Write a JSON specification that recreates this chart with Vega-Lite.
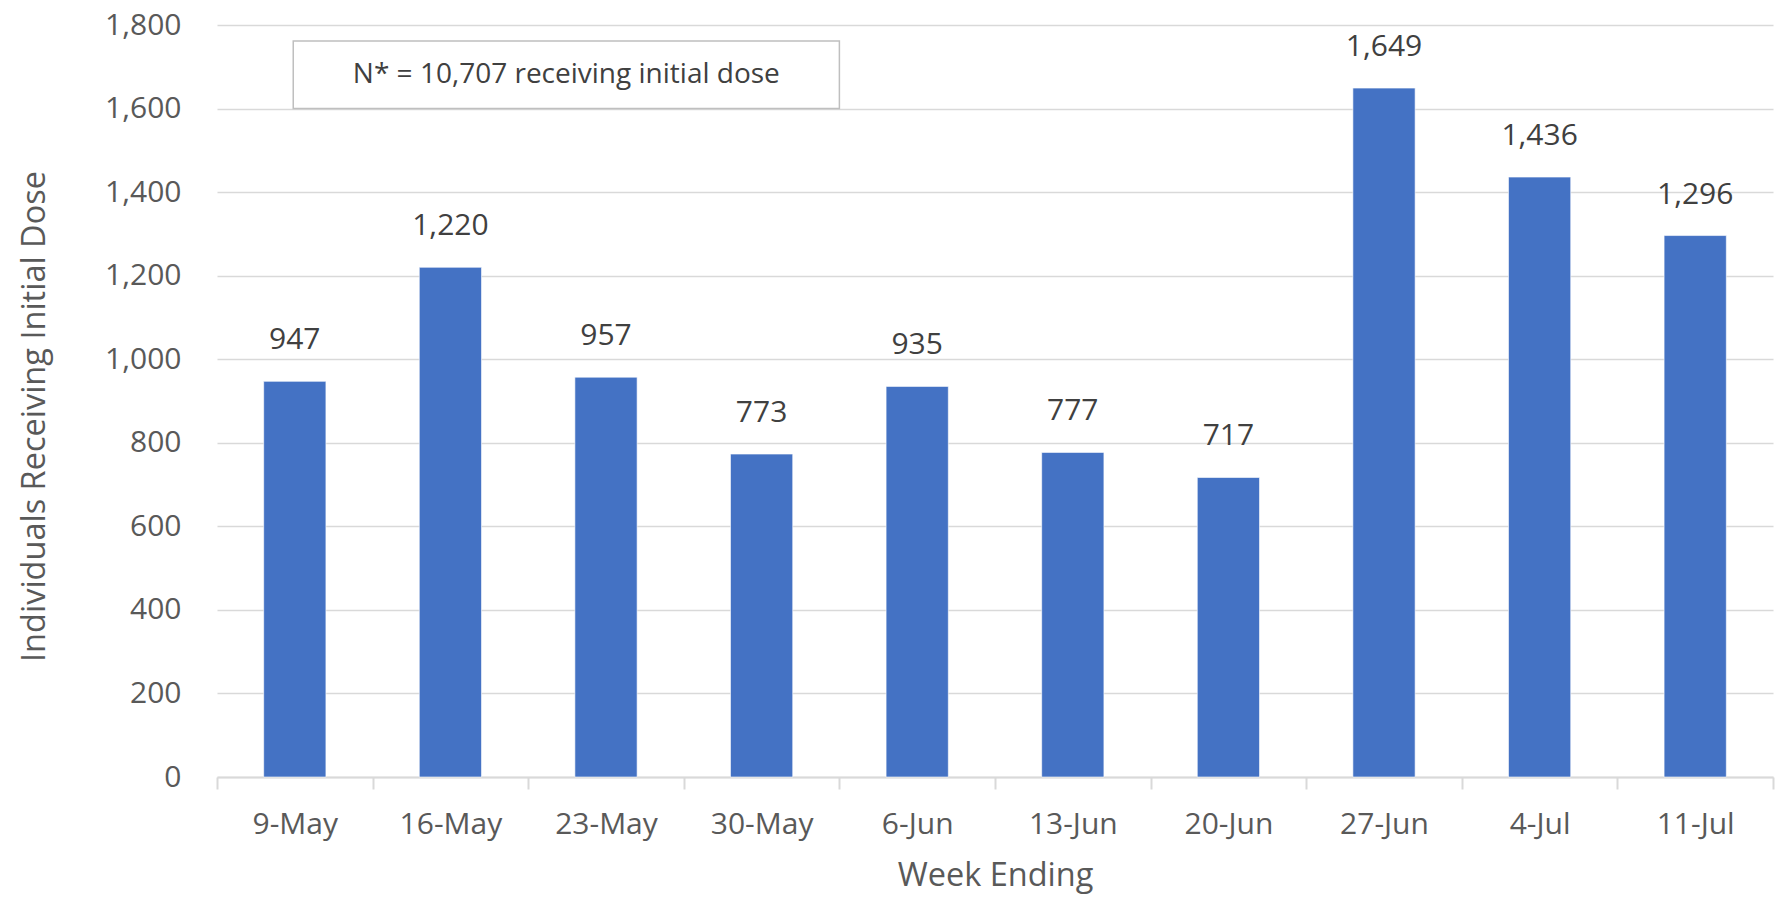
{
  "$schema": "https://vega.github.io/schema/vega-lite/v6.json",
  "width": 1556,
  "height": 752,
  "autosize": {"type": "none"},
  "padding": {"left": 217, "top": 25, "right": 2, "bottom": 120},
  "background": "white",
  "config": {
    "view": {"stroke": null},
    "font": "Open Sans"
  },
  "datasets": {
    "weeks": [
      {"week": "9-May", "count": 947},
      {"week": "16-May", "count": 1220},
      {"week": "23-May", "count": 957},
      {"week": "30-May", "count": 773},
      {"week": "6-Jun", "count": 935},
      {"week": "13-Jun", "count": 777},
      {"week": "20-Jun", "count": 717},
      {"week": "27-Jun", "count": 1649},
      {"week": "4-Jul", "count": 1436},
      {"week": "11-Jul", "count": 1296}
    ],
    "note": [
      {"x1": 0.49, "x2": 4.0, "y1": 1600, "y2": 1762, "xm": 2.245, "ym": 1681, "label": "N* = 10,707 receiving initial dose"}
    ]
  },
  "resolve": {"scale": {"x": "independent"}},
  "layer": [
    {
      "data": {"name": "weeks"},
      "encoding": {
        "x": {
          "field": "week",
          "type": "nominal",
          "sort": null,
          "scale": {"paddingInner": 0, "paddingOuter": 0},
          "axis": {
            "title": "Week Ending",
            "titleFont": "Open Sans",
            "titleFontSize": 32.5,
            "titleFontWeight": "normal",
            "titleColor": "#595959",
            "titlePadding": 20,
            "labelFont": "Open Sans",
            "labelFontSize": 30,
            "labelColor": "#595959",
            "labelAngle": 0,
            "labelPadding": 20,
            "tickBand": "extent",
            "ticks": true,
            "tickSize": 12,
            "tickColor": "#d9d9d9",
            "tickWidth": 2,
            "domainColor": "#d9d9d9",
            "domainWidth": 2,
            "grid": false
          }
        },
        "y": {
          "field": "count",
          "type": "quantitative",
          "scale": {"domain": [0, 1800], "nice": false},
          "axis": {
            "title": "Individuals Receiving Initial Dose",
            "titleFont": "Open Sans",
            "titleFontSize": 32.5,
            "titleFontWeight": "normal",
            "titleColor": "#595959",
            "titleX": -183,
            "titleY": 391,
            "titleBaseline": "middle",
            "labelFont": "Open Sans",
            "labelFontSize": 30,
            "labelColor": "#595959",
            "labelPadding": 36,
            "values": [0, 200, 400, 600, 800, 1000, 1200, 1400, 1600, 1800],
            "format": ",d",
            "ticks": false,
            "domain": false,
            "grid": true,
            "gridColor": "#d9d9d9",
            "gridWidth": 1.5
          }
        }
      },
      "layer": [
        {
          "mark": {"type": "bar", "color": "#4472c4", "stroke": "#ffffff", "strokeWidth": 1, "strokeOpacity": 0.6, "width": {"band": 0.4}}
        },
        {
          "mark": {"type": "text", "baseline": "alphabetic", "dy": -32, "fontSize": 30, "color": "#404040", "font": "Open Sans"},
          "encoding": {"text": {"field": "count", "type": "quantitative", "format": ",d"}}
        }
      ]
    },
    {
      "data": {"name": "note"},
      "layer": [
        {
          "mark": {"type": "rect", "fill": "white", "stroke": "#bfbfbf", "strokeWidth": 1.5},
          "encoding": {
            "x": {"field": "x1", "type": "quantitative", "scale": {"domain": [0, 10], "nice": false}, "axis": null},
            "x2": {"field": "x2"},
            "y": {"field": "y1", "type": "quantitative"},
            "y2": {"field": "y2"}
          }
        },
        {
          "mark": {"type": "text", "fontSize": 28, "color": "#404040", "font": "Open Sans", "baseline": "middle", "align": "center"},
          "encoding": {
            "x": {"field": "xm", "type": "quantitative", "scale": {"domain": [0, 10], "nice": false}, "axis": null},
            "y": {"field": "ym", "type": "quantitative"},
            "text": {"field": "label"}
          }
        }
      ]
    }
  ]
}
